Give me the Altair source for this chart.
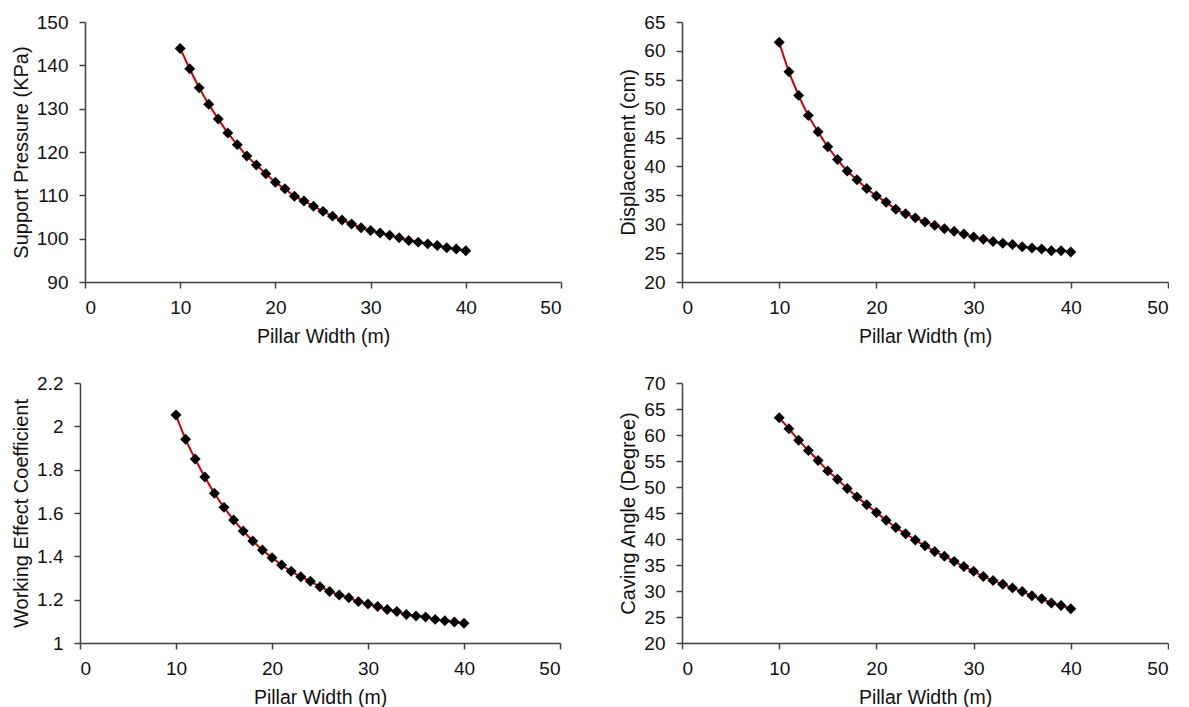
import altair as alt
import pandas as pd

pillar_width = list(range(10, 41))

support_pressure = [143.9, 139.2, 134.8, 131.0, 127.6, 124.4, 121.7, 119.1, 117.0, 115.0,
                    113.0, 111.5, 109.8, 108.7, 107.5, 106.3, 105.2, 104.3, 103.4, 102.5,
                    101.9, 101.3, 100.8, 100.2, 99.6, 99.2, 98.8, 98.4, 97.9, 97.6, 97.2]

displacement = [61.5, 56.4, 52.3, 48.8, 46.0, 43.4, 41.2, 39.2, 37.7, 36.2,
                34.9, 33.8, 32.6, 31.8, 31.1, 30.4, 29.8, 29.2, 28.8, 28.3,
                27.8, 27.4, 27.0, 26.7, 26.5, 26.1, 25.9, 25.7, 25.4, 25.4, 25.2]

working_effect = [2.052, 1.940, 1.849, 1.766, 1.691, 1.626, 1.568, 1.517, 1.471, 1.429,
                  1.394, 1.360, 1.331, 1.306, 1.285, 1.260, 1.238, 1.222, 1.209, 1.191,
                  1.180, 1.168, 1.155, 1.145, 1.132, 1.125, 1.120, 1.109, 1.103, 1.097, 1.091]

caving_angle = [63.3, 61.2, 59.0, 57.0, 55.1, 53.1, 51.5, 49.7, 48.1, 46.6,
                45.1, 43.6, 42.2, 41.0, 39.8, 38.7, 37.6, 36.7, 35.7, 34.7,
                33.8, 32.8, 32.0, 31.3, 30.6, 29.9, 29.1, 28.5, 27.7, 27.2, 26.6]

x_ticks = [0, 10, 20, 30, 40, 50]
x_title = "Pillar Width (m)"

FONT = "Liberation Sans"


def panel(title, values, domain, ticks, width, shift=0):
    df = pd.DataFrame({"w": pillar_width, "v": values})
    base = alt.Chart(df)
    if shift:
        xscale = alt.Scale(domain=[0, 50], nice=False, range=[-shift, width])
        yaxis = alt.Axis(values=ticks, title=title, format="~f", offset=shift)
    else:
        xscale = alt.Scale(domain=[0, 50], nice=False)
        yaxis = alt.Axis(values=ticks, title=title, format="~f")
    x = alt.X("w:Q", scale=xscale, axis=alt.Axis(values=x_ticks, title=x_title, format="~f"))
    y = alt.Y("v:Q", scale=alt.Scale(domain=domain, nice=False, zero=False), axis=yaxis)
    line = base.mark_line(color="#cc0000", strokeWidth=2, interpolate="monotone").encode(x=x, y=y)
    pts = base.mark_point(shape="diamond", filled=True, color="black", size=120, opacity=1).encode(x=x, y=y)
    return alt.layer(line, pts).properties(width=width, height=260)


p1 = panel("Support Pressure (KPa)", support_pressure, [90, 150],
           [90, 100, 110, 120, 130, 140, 150], 476)
p2 = panel("Displacement (cm)", displacement, [20, 65],
           [20, 25, 30, 35, 40, 45, 50, 55, 60, 65], 486)
p3 = panel("Working Effect Coefficient", working_effect, [1, 2.2],
           [1, 1.2, 1.4, 1.6, 1.8, 2, 2.2], 475, shift=5)
p4 = panel("Caving Angle  (Degree)", caving_angle, [20, 70],
           [20, 25, 30, 35, 40, 45, 50, 55, 60, 65, 70], 486)

chart = alt.concat(
    alt.hconcat(p1, p2, spacing=56),
    alt.hconcat(p3, p4, spacing=53),
    columns=1,
    spacing=28,
    align="none",
).properties(
    padding={"left": 3, "top": 5, "right": 0, "bottom": 0}
).configure_view(stroke=None).configure_axis(
    grid=False,
    domainColor="#404040",
    domainWidth=1.5,
    tickColor="#404040",
    tickWidth=1.5,
    tickSize=6,
    labelFont=FONT,
    labelFontSize=19,
    labelColor="#111111",
    titleFont=FONT,
    titleFontWeight="normal",
    titleColor="#111111",
).configure_axisY(titlePadding=5, titleFontSize=20, labelPadding=11).configure_axisX(
    titlePadding=10, titleFontSize=19.5, labelPadding=10)

chart.save("out.html", embed_options={"renderer": "svg", "actions": False})
